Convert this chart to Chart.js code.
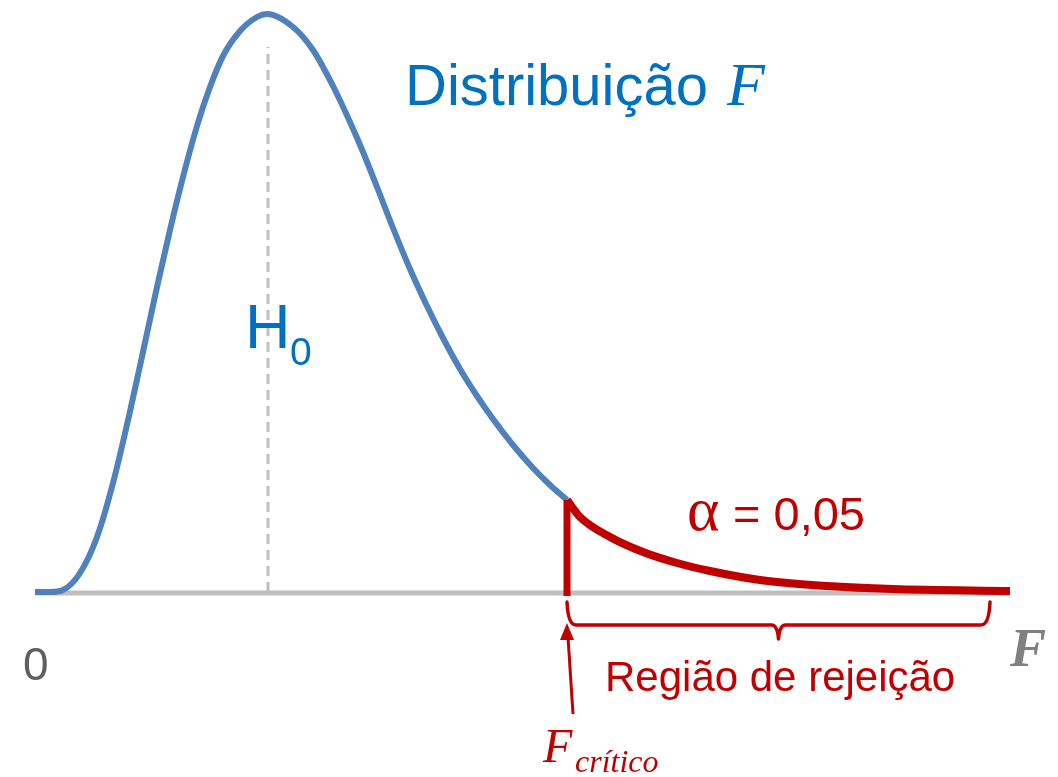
<!DOCTYPE html>
<html>
<head>
<meta charset="utf-8">
<script src="https://cdn.jsdelivr.net/npm/chart.js@4"></script>
<style>
  html, body { margin: 0; padding: 0; background: #fff; }
  #wrap { width: 1058px; height: 777px; }
</style>
</head>
<body>
<div id="wrap"><canvas id="fChart" width="1058" height="777"></canvas></div>
<script>
// F distribution curve (F value, density)
const curveF = [0, 0.075, 0.14, 0.225, 0.31, 0.39, 0.475, 0.54, 0.61, 0.675, 0.74, 0.81, 0.875, 0.94, 1.025, 1.11, 1.16,
  1.29, 1.39, 1.49, 1.575, 1.64, 1.71, 1.79, 1.875, 1.96, 2.04, 2.125, 2.21, 2.29, 2.39, 2.49, 2.575, 2.66];
const curveDensity = [0, 0, 0.002, 0.019, 0.055, 0.109, 0.1805, 0.240, 0.305, 0.362, 0.415, 0.466, 0.505, 0.536, 0.561, 0.575, 0.578,
  0.565, 0.542, 0.506, 0.470, 0.440, 0.405, 0.364, 0.323, 0.286, 0.254, 0.223, 0.196, 0.173, 0.147, 0.124, 0.107, 0.092];

// rejection region tail
const tailF = [2.66, 2.725, 2.875, 3.04, 3.21, 3.375, 3.625, 3.96, 4.29, 4.875];
const tailDensity = [0.092, 0.075, 0.055, 0.040, 0.029, 0.021, 0.012, 0.006, 0.003, 0.001];

const fCritical = 2.66;
const fMode = 1.165;
const modeLineTop = 0.545;
const axisEnd = 4.875;
const bracketEnd = 4.775;

const blue = '#4F81BD';
const textBlue = '#0070C0';
const red = '#C00000';
const gray = '#BFBFBF';

function points(xs, ys) {
  return xs.map((x, i) => ({ x: x, y: ys[i] }));
}

// texts, brace and arrow
const annotations = {
  id: 'annotations',
  afterDraw(chart) {
    const ctx = chart.ctx;
    const xs = chart.scales.x;
    const ys = chart.scales.y;
    const base = ys.getPixelForValue(0);
    const xc = xs.getPixelForValue(fCritical);
    const xe = xs.getPixelForValue(bracketEnd);
    const xm = (xc + xe) / 2;
    const xMode = xs.getPixelForValue(fMode);

    ctx.save();
    ctx.textBaseline = 'alphabetic';

    // title
    ctx.fillStyle = textBlue;
    ctx.font = '58px "Liberation Sans", Arial, sans-serif';
    ctx.fillText('Distribuição', 405, 105);
    ctx.font = 'italic 62px "Liberation Serif", "Times New Roman", serif';
    ctx.fillText('F', 727, 105);

    // H0
    ctx.font = '63px "Liberation Sans", Arial, sans-serif';
    ctx.fillText('H', xMode - 23, 348);
    ctx.font = '39px "Liberation Sans", Arial, sans-serif';
    ctx.fillText('0', xMode + 22, 365);

    // alpha
    ctx.fillStyle = red;
    ctx.font = '62px "Liberation Serif", "Times New Roman", serif';
    ctx.fillText('α', 687, 530);
    ctx.font = '47px "Liberation Sans", Arial, sans-serif';
    ctx.fillText('= 0,05', 733, 530);

    // rejection region label
    ctx.font = '42px "Liberation Sans", Arial, sans-serif';
    ctx.fillText('Região de rejeição', 605, 691);

    // F critico
    ctx.font = 'italic 48px "Liberation Serif", "Times New Roman", serif';
    ctx.fillText('F', 543, 762);
    ctx.font = 'italic 32px "Liberation Serif", "Times New Roman", serif';
    ctx.fillText('crítico', 575, 772);

    // axis labels
    ctx.fillStyle = '#5F5F5F';
    ctx.font = '46px "Liberation Sans", Arial, sans-serif';
    ctx.fillText('0', 23, 680);
    ctx.fillStyle = '#808080';
    ctx.font = 'bold italic 54px "Liberation Serif", "Times New Roman", serif';
    ctx.fillText('F', 1010, 666);

    // brace under the rejection region
    ctx.strokeStyle = red;
    ctx.lineWidth = 3.5;
    ctx.lineJoin = 'round';
    ctx.lineCap = 'round';
    const by = base + 33;
    ctx.beginPath();
    ctx.moveTo(xc, base + 10);
    ctx.quadraticCurveTo(xc + 1, by, xc + 9, by);
    ctx.lineTo(xm - 7, by);
    ctx.quadraticCurveTo(xm - 1, by, xm, by + 14);
    ctx.quadraticCurveTo(xm + 1, by, xm + 7, by);
    ctx.lineTo(xe - 9, by);
    ctx.quadraticCurveTo(xe - 1, by, xe, base + 10);
    ctx.stroke();

    // arrow to the critical value
    ctx.lineWidth = 3;
    ctx.lineCap = 'butt';
    ctx.beginPath();
    ctx.moveTo(xc + 6, base + 122);
    ctx.lineTo(xc + 1, base + 45);
    ctx.stroke();
    ctx.fillStyle = red;
    ctx.beginPath();
    ctx.moveTo(xc, base + 31);
    ctx.lineTo(xc - 7, base + 48);
    ctx.lineTo(xc + 7, base + 48);
    ctx.closePath();
    ctx.fill();

    ctx.restore();
  }
};

const ctx = document.getElementById('fChart').getContext('2d');
const fChart = new Chart(ctx, {
  type: 'line',
  data: {
    datasets: [{
      label: 'Valor crítico',
      data: [{ x: fCritical, y: -0.004 }, { x: fCritical, y: tailDensity[0] }],
      borderColor: red,
      borderWidth: 7,
      pointRadius: 0,
      tension: 0,
      order: 1
    }, {
      label: 'Região de rejeição',
      data: points(tailF, tailDensity),
      borderColor: red,
      borderWidth: 8,
      pointRadius: 0,
      cubicInterpolationMode: 'monotone',
      order: 2
    }, {
      label: 'Distribuição F',
      data: points(curveF, curveDensity),
      borderColor: blue,
      borderWidth: 6,
      pointRadius: 0,
      cubicInterpolationMode: 'monotone',
      order: 3
    }, {
      label: 'H0',
      data: [{ x: fMode, y: 0 }, { x: fMode, y: modeLineTop }],
      borderColor: gray,
      borderWidth: 3,
      borderDash: [10, 6],
      pointRadius: 0,
      order: 4
    }, {
      label: 'Eixo',
      data: [{ x: 0, y: -0.001 }, { x: axisEnd, y: -0.001 }],
      borderColor: gray,
      borderWidth: 5,
      pointRadius: 0,
      order: 5
    }]
  },
  options: {
    responsive: false,
    animation: false,
    devicePixelRatio: 1,
    layout: { padding: 0 },
    plugins: {
      legend: { display: false },
      tooltip: { enabled: false }
    },
    scales: {
      x: {
        type: 'linear',
        display: false,
        min: -0.175,
        max: 5.115
      },
      y: {
        type: 'linear',
        display: false,
        min: -0.185,
        max: 0.592
      }
    }
  },
  plugins: [annotations]
});
</script>
</body>
</html>
